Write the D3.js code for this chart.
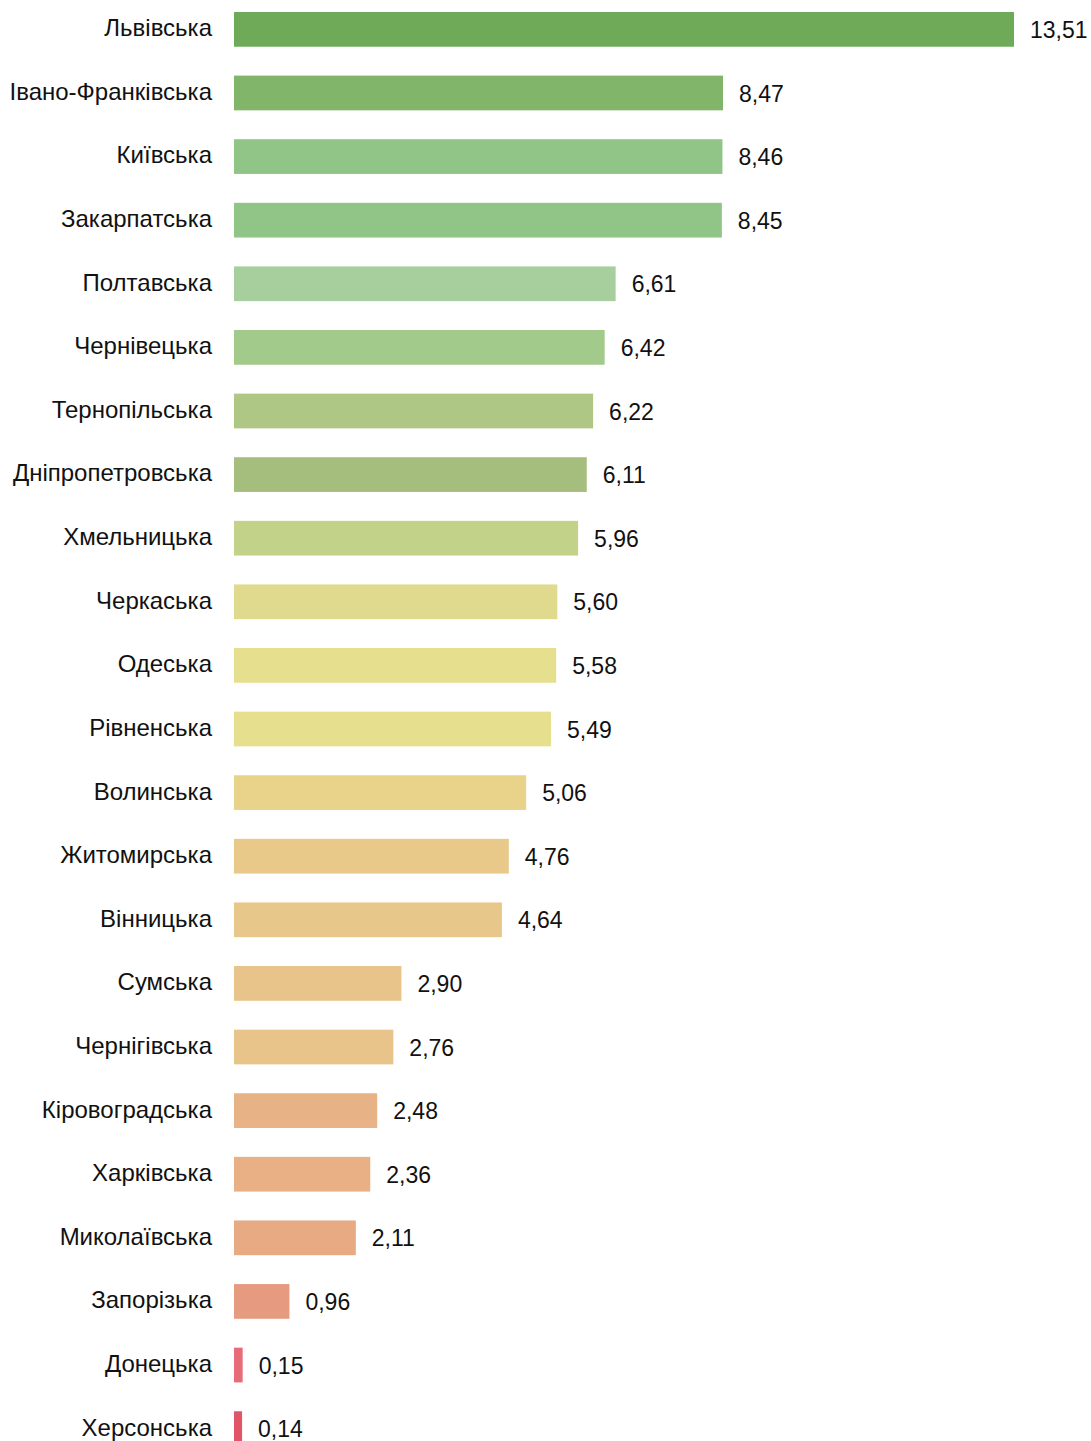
<!DOCTYPE html>
<html><head><meta charset="utf-8">
<script src="https://cdn.jsdelivr.net/npm/d3@7"></script>
<style>body{margin:0;background:#fff}svg{display:block}text{font-family:"Liberation Sans",Arial,sans-serif;fill:#111}</style>
</head><body>
<script>
const regions = ["Львівська","Івано-Франківська","Київська","Закарпатська","Полтавська","Чернівецька","Тернопільська","Дніпропетровська","Хмельницька","Черкаська","Одеська","Рівненська","Волинська","Житомирська","Вінницька","Сумська","Чернігівська","Кіровоградська","Харківська","Миколаївська","Запорізька","Донецька","Херсонська"];
const values = [13.51,8.47,8.46,8.45,6.61,6.42,6.22,6.11,5.96,5.60,5.58,5.49,5.06,4.76,4.64,2.90,2.76,2.48,2.36,2.11,0.96,0.15,0.14];
const colors = ["#6faa58","#80b56a","#91c487","#91c487","#a7cf9d","#a2ca8b","#aec785","#a6be7d","#c2d389","#e0da8e","#e6df8e","#e6df8e","#e9d38b","#e8c98a","#e8c78a","#e8c48a","#e8c48a","#e7b386","#e8b084","#e7aa83","#e69b80","#e56c78","#e05668"];

const W = 1091, H = 1441;
const svg = d3.select("body").append("svg").attr("width", W).attr("height", H);
const x = d3.scaleLinear().domain([0, 13.51]).range([234, 1014]);
const y = d3.scaleBand().domain(regions).range([12, 1446]).paddingInner(0.454).paddingOuter(0);

const data = regions.map((r,i)=>({r, v: values[i], c: colors[i]}));
const g = svg.selectAll("g.row").data(data).join("g").attr("class","row");
g.append("rect").attr("x", x(0)).attr("y", d=>y(d.r)).attr("width", d=>x(d.v)-x(0)).attr("height", y.bandwidth()).attr("fill", d=>d.c);
g.append("text").attr("x", 212).attr("y", d=>y(d.r)+y.bandwidth()/2 - 1.5).attr("dy","0.35em").attr("text-anchor","end").attr("font-size","24px").text(d=>d.r);
g.append("text").attr("x", d=>x(d.v)+16).attr("y", d=>y(d.r)+y.bandwidth()/2 + 0.5).attr("dy","0.35em").attr("font-size","23px").text(d=>d.v.toFixed(2).replace(".",","));
</script>
</body></html>
